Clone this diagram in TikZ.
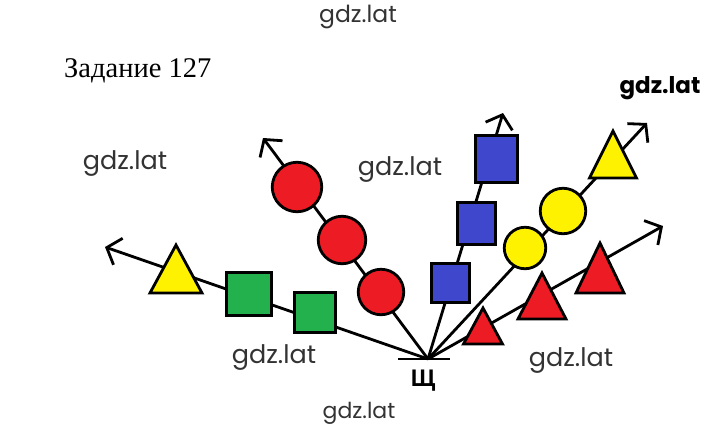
\documentclass[tikz,border=0pt]{standalone}
\usepackage{fontspec}
\setmainfont{Liberation Serif}
\newfontfamily\wmfont{Poppins}
\newfontfamily\lblfont{Liberation Sans}
\usetikzlibrary{arrows.meta}
\definecolor{pred}{HTML}{ED1C24}
\definecolor{pgreen}{HTML}{22B14C}
\definecolor{pblue}{HTML}{3F48CC}
\definecolor{pyellow}{HTML}{FFF200}
\tikzset{
  ray/.style={line width=2.8pt, black, -{Straight Barb[length=12pt,width=28pt]}},
  bar/.style={line width=2.6pt, black},
  shp/.style={draw=black, line width=2.8pt, inner sep=0pt, outer sep=0pt},
  sqbox/.style={shp, rectangle},
  ball/.style={shp, circle},
  wm/.style={font=\wmfont\fontsize{25.5}{28}\selectfont, text=black!80, inner sep=0pt},
}
\newcommand\tri[5]{\draw[line width=2.8pt, line join=miter, fill=#5] (#1,#2) -- ++(#3,#4) -- ++(-2*#3,0) -- cycle;}
\begin{document}
\begin{tikzpicture}[x=1pt,y=-1pt]
\useasboundingbox[fill=white] (0,0) rectangle (720,429);
% origin and tips
\coordinate (O) at (428,359);
\coordinate (barL) at (398,359);
\coordinate (barR) at (450,359);
\coordinate (tipA) at (105,247);
\coordinate (tipB) at (263,138);
\coordinate (tipC) at (503,113);
\coordinate (tipD) at (647,123);
\coordinate (tipE) at (663,226);
% rays
\draw[ray] (O) -- (tipA);
\draw[ray] (O) -- (tipB);
\draw[ray] (O) -- (tipC);
\draw[ray] (O) -- (tipD);
\draw[ray] (O) -- (tipE);
\draw[bar] (barL) -- (barR);
% left ray: triangle + green squares
\tri{176}{245}{26}{48}{pyellow}
\node[sqbox, fill=pgreen, minimum width=45.5pt, minimum height=43.5pt] (g1) at (249,294) {};
\node[sqbox, fill=pgreen, minimum width=41.5pt, minimum height=40.5pt] (g2) at (315,312.5) {};
% red circles
\node[ball, fill=pred, minimum size=49.5pt] (r1) at (297,187) {};
\node[ball, fill=pred, minimum size=47.5pt] (r2) at (342,240) {};
\node[ball, fill=pred, minimum size=45.5pt] (r3) at (381,292) {};
% blue squares
\node[sqbox, fill=pblue, minimum width=42.5pt, minimum height=46.5pt] (b1) at (496.5,159) {};
\node[sqbox, fill=pblue, minimum width=38.5pt, minimum height=42.5pt] (b2) at (476.5,223.5) {};
\node[sqbox, fill=pblue, minimum width=38.5pt, minimum height=39.5pt] (b3) at (450.5,283) {};
% yellow circles and triangle
\node[ball, fill=pyellow, minimum size=41.5pt] (y1) at (525,248) {};
\node[ball, fill=pyellow, minimum size=45.5pt] (y2) at (563,211) {};
\tri{613}{131}{23.5}{47}{pyellow}
% red triangles
\tri{483}{308}{19.5}{36}{pred}
\tri{542}{273}{24}{46}{pred}
\tri{600}{243}{24}{50}{pred}
% texts
\node[anchor=west, inner sep=0pt, font=\fontsize{28.5}{31}\selectfont] (title) at (64,71) {Задание 127};
\node[inner sep=0pt, font=\lblfont\bfseries\fontsize{24}{26}\selectfont] (sh) at (423,381) {Щ};
\node[wm, font=\wmfont\fontsize{23.5}{26}\selectfont] (w1) at (358,17) {gdz.lat};
\node[wm] (w2) at (125,164) {gdz.lat};
\node[wm] (w3) at (400,170) {gdz.lat};
\node[wm] (w4) at (274,357) {gdz.lat};
\node[wm] (w5) at (571,360) {gdz.lat};
\node[wm, font=\wmfont\fontsize{22}{24}\selectfont] (w6) at (359,413) {gdz.lat};
\node[wm, font=\wmfont\bfseries\fontsize{23}{26}\selectfont, text=black] (w7) at (660,88) {gdz.lat};
\end{tikzpicture}
\end{document}
